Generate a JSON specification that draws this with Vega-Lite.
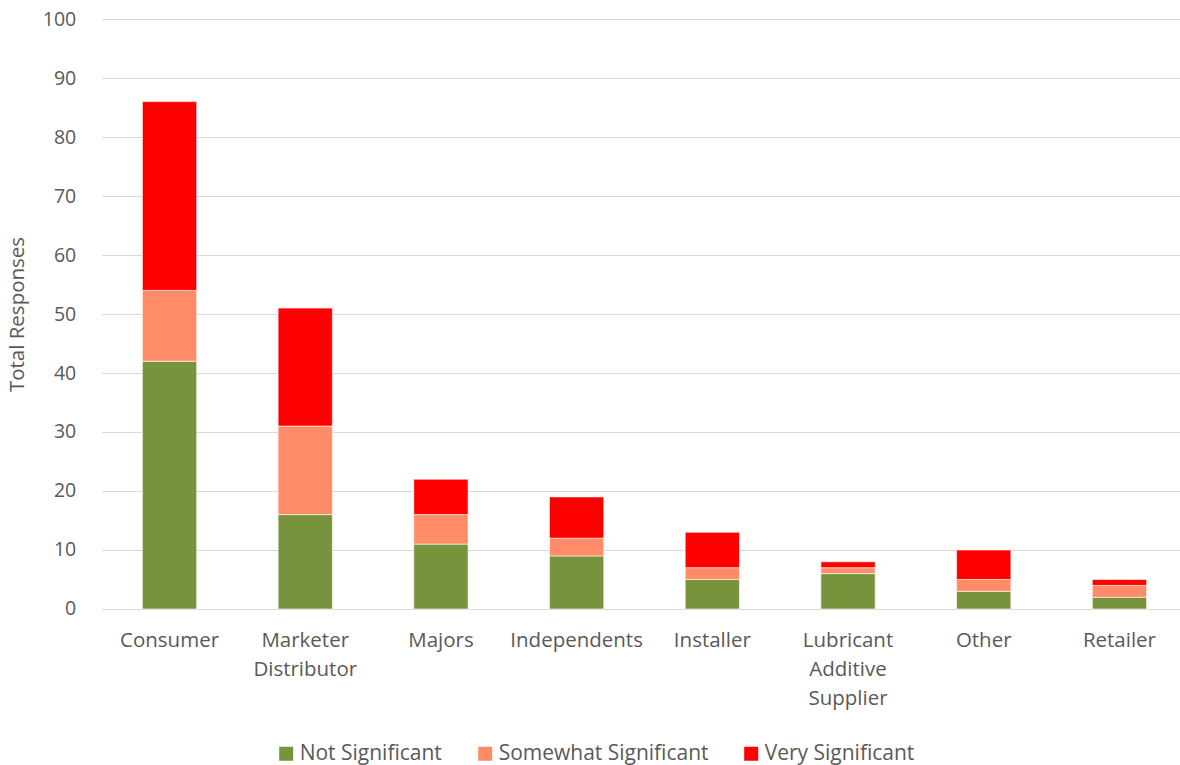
{
  "$schema": "https://vega.github.io/schema/vega-lite/v6.json",
  "autosize": {"type": "none"},
  "width": 1079,
  "height": 590,
  "padding": {"left": 101.7, "top": 19, "right": 0, "bottom": 156},
  "background": "white",
  "config": {
    "font": "Open Sans",
    "view": {"stroke": null}
  },
  "data": {
    "values": [
      {"category": "Consumer", "level": "Not Significant", "ord": 1, "value": 42},
      {"category": "Consumer", "level": "Somewhat Significant", "ord": 2, "value": 12},
      {"category": "Consumer", "level": "Very Significant", "ord": 3, "value": 32},
      {"category": "Marketer Distributor", "level": "Not Significant", "ord": 1, "value": 16},
      {"category": "Marketer Distributor", "level": "Somewhat Significant", "ord": 2, "value": 15},
      {"category": "Marketer Distributor", "level": "Very Significant", "ord": 3, "value": 20},
      {"category": "Majors", "level": "Not Significant", "ord": 1, "value": 11},
      {"category": "Majors", "level": "Somewhat Significant", "ord": 2, "value": 5},
      {"category": "Majors", "level": "Very Significant", "ord": 3, "value": 6},
      {"category": "Independents", "level": "Not Significant", "ord": 1, "value": 9},
      {"category": "Independents", "level": "Somewhat Significant", "ord": 2, "value": 3},
      {"category": "Independents", "level": "Very Significant", "ord": 3, "value": 7},
      {"category": "Installer", "level": "Not Significant", "ord": 1, "value": 5},
      {"category": "Installer", "level": "Somewhat Significant", "ord": 2, "value": 2},
      {"category": "Installer", "level": "Very Significant", "ord": 3, "value": 6},
      {"category": "Lubricant Additive Supplier", "level": "Not Significant", "ord": 1, "value": 6},
      {"category": "Lubricant Additive Supplier", "level": "Somewhat Significant", "ord": 2, "value": 1},
      {"category": "Lubricant Additive Supplier", "level": "Very Significant", "ord": 3, "value": 1},
      {"category": "Other", "level": "Not Significant", "ord": 1, "value": 3},
      {"category": "Other", "level": "Somewhat Significant", "ord": 2, "value": 2},
      {"category": "Other", "level": "Very Significant", "ord": 3, "value": 5},
      {"category": "Retailer", "level": "Not Significant", "ord": 1, "value": 2},
      {"category": "Retailer", "level": "Somewhat Significant", "ord": 2, "value": 2},
      {"category": "Retailer", "level": "Very Significant", "ord": 3, "value": 1}
    ]
  },
  "mark": {"type": "bar", "stroke": "white", "strokeWidth": 0.6},
  "encoding": {
    "x": {
      "field": "category",
      "type": "nominal",
      "sort": null,
      "scale": {"paddingInner": 0.6, "paddingOuter": 0.2757, "align": 0.544},
      "axis": {
        "title": null,
        "labelAngle": 0,
        "labelExpr": "split(datum.label, ' ')",
        "labelFontSize": 20.5,
        "labelColor": "#595959",
        "labelLineHeight": 29,
        "labelPadding": 32,
        "labelBaseline": "middle",
        "ticks": false,
        "domainColor": "#D9D9D9",
        "domainWidth": 1,
        "grid": false
      }
    },
    "y": {
      "field": "value",
      "type": "quantitative",
      "stack": "zero",
      "scale": {"domain": [0, 100], "nice": false},
      "axis": {
        "title": "Total Responses",
        "titleFontSize": 20.5,
        "titleFontWeight": "normal",
        "titleColor": "#595959",
        "titlePadding": 15,
        "values": [0, 10, 20, 30, 40, 50, 60, 70, 80, 90, 100],
        "labelFontSize": 19.5,
        "labelColor": "#595959",
        "labelPadding": 26,
        "ticks": false,
        "domain": false,
        "gridColor": "#D9D9D9",
        "gridWidth": 1
      }
    },
    "color": {
      "field": "level",
      "type": "nominal",
      "scale": {
        "domain": ["Not Significant", "Somewhat Significant", "Very Significant"],
        "range": ["#77933C", "#FF8B67", "#FF0000"]
      },
      "legend": {
        "title": null,
        "orient": "none",
        "direction": "horizontal",
        "legendX": 174,
        "legendY": 724,
        "symbolType": "square",
        "symbolSize": 196,
        "symbolStrokeWidth": 0,
        "labelFontSize": 21,
        "labelColor": "#595959",
        "labelLimit": 400,
        "columnPadding": 32,
        "labelOffset": 3
      }
    },
    "order": {"field": "ord", "type": "quantitative"}
  }
}
